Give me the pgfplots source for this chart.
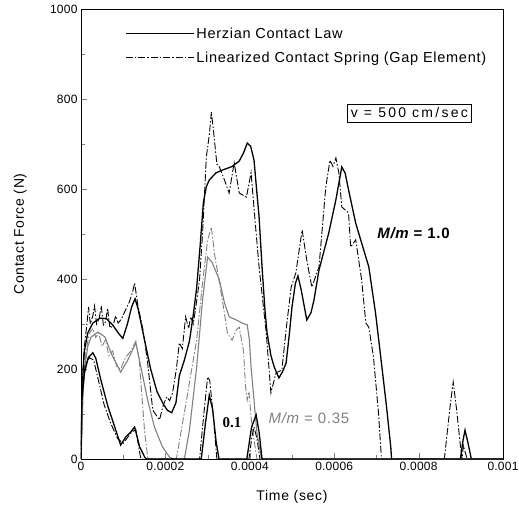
\documentclass[border=0pt]{standalone}
\usepackage{pgfplots}
\pgfplotsset{compat=1.18}
\usepackage{fontspec}
\setmainfont{Liberation Sans}[LetterSpace=5]
\newfontfamily\timesfont{Liberation Serif}
\tikzset{dashdot/.style={dash pattern=on 7pt off 2pt on 1.5pt off 2pt}}
\begin{document}
\begin{tikzpicture}
\useasboundingbox (-81pt,-60pt) rectangle (438pt,459pt);
\begin{axis}[
  at={(0pt,0pt)}, anchor=south west,
  scale only axis, width=422pt, height=450pt,
  xmin=0, xmax=0.001, ymin=0, ymax=1000,
  xtick={0,0.0002,0.0004,0.0006,0.0008,0.001},
  ytick={0,200,400,600,800,1000},
  minor x tick num=1, minor y tick num=1,
  scaled x ticks=false,
  xticklabel style={/pgf/number format/fixed,/pgf/number format/precision=4},
  /pgf/number format/1000 sep={},
  /pgf/number format/assume math mode=true,
  tick pos=left, tick align=inside,
  major tick length=6pt, minor tick length=4pt,
  ticklabel style={font=\fontsize{12}{14}\selectfont\addfontfeature{LetterSpace=2}},
  xlabel={Time (sec)}, ylabel={Contact Force (N)},
  label style={font=\fontsize{14}{16}\selectfont},
  xlabel style={at={(axis description cs:0.5,-0.084)}, anchor=center},
  ylabel style={at={(axis description cs:-0.144,0.5)}, anchor=center},
  axis line style={line width=0.8pt},
  legend style={draw=none, fill=none, at={(0.104,0.963)}, anchor=north west,
    font=\fontsize{14.5}{16}\selectfont, row sep=8pt, inner sep=0pt},
  legend cell align=left,
  legend image code/.code={\draw[#1] (0pt,0pt) -- (68pt,0pt);},
]
% M/m = 1.0 Herzian
\addplot[black, line width=1.3pt] coordinates {
(0,0) (0.000003,160) (0.000008,240) (0.000016,280) (0.000028,302) (0.000045,313)
(0.000060,312) (0.000075,298) (0.000090,278) (0.000099,268) (0.000110,300)
(0.000120,338) (0.000128,356) (0.000135,335) (0.000146,285) (0.000155,245)
(0.000165,200) (0.000180,150) (0.000195,122) (0.000205,108) (0.000215,103)
(0.000225,125) (0.000233,185) (0.000245,220) (0.000257,262) (0.000266,320)
(0.000274,380) (0.000282,470) (0.000290,570) (0.000297,605) (0.000304,620)
(0.000320,636) (0.000335,642) (0.000358,650) (0.000375,662) (0.000385,680)
(0.000394,702) (0.000402,695) (0.000410,664) (0.000416,600) (0.000422,538)
(0.000429,427) (0.000436,330) (0.000441,280) (0.000450,230) (0.000458,204)
(0.000469,180) (0.000478,195) (0.000486,213) (0.000494,280) (0.000500,338)
(0.000508,390) (0.000514,407) (0.000522,375) (0.000535,309) (0.000545,325)
(0.000552,353) (0.000564,420) (0.000587,502) (0.000604,576) (0.000618,649)
(0.000626,635) (0.000634,598) (0.000651,524) (0.000665,480) (0.000682,427)
(0.000698,324) (0.000712,213) (0.000724,116) (0.000734,27) (0.000736,0)
(0.000899,0) (0.000905,40) (0.000910,64) (0.000916,40) (0.000925,0) (0.001,0)
};
\addlegendentry{Herzian Contact Law}
% M/m = 1.0 Gap element
\addplot[black, line width=0.9pt, dashdot] coordinates {
(0,0) (0.000003,180) (0.000008,250) (0.000014,300) (0.000018,338) (0.000022,300)
(0.000028,318) (0.000032,340) (0.000037,300) (0.000043,312) (0.000048,340)
(0.000053,298) (0.000058,305) (0.000063,335) (0.000068,295) (0.000075,292)
(0.000082,318) (0.000088,302) (0.000095,310) (0.000105,330) (0.000115,350)
(0.000122,370) (0.000127,391) (0.000135,340) (0.000147,287) (0.000158,213)
(0.000170,109) (0.000180,95) (0.000186,87) (0.000195,120) (0.000203,138)
(0.000210,130) (0.000217,147) (0.000226,200) (0.000233,258) (0.000240,245)
(0.000248,316) (0.000255,290) (0.000260,316) (0.000266,300) (0.000274,350)
(0.000281,400) (0.000288,500) (0.000297,671) (0.000304,720) (0.000309,771)
(0.000315,720) (0.000322,655) (0.000328,649) (0.000340,620) (0.000351,591)
(0.000363,658) (0.000375,591) (0.000392,582) (0.000403,636) (0.000415,502)
(0.000422,427) (0.000439,280) (0.000450,147) (0.000462,191) (0.000476,198)
(0.000486,287) (0.000498,382) (0.000509,413) (0.000524,509) (0.000535,442)
(0.000547,382) (0.000564,427) (0.000580,604) (0.000590,664) (0.000597,650)
(0.000604,669) (0.000611,636) (0.000618,560) (0.000634,547) (0.000639,471)
(0.000651,487) (0.000665,398) (0.000675,302) (0.000682,293) (0.000693,227)
(0.000705,102) (0.000712,0) (0.000861,0) (0.000875,120) (0.000882,171)
(0.000890,110) (0.000899,30) (0.000903,0) (0.000906,30) (0.000912,10)
(0.000915,0) (0.001,0)
};
\addlegendentry{Linearized Contact Spring (Gap Element)}
% M/m = 0.35 Herzian (gray)
\addplot[black!50, line width=1.1pt, forget plot] coordinates {
(0,0) (0.000005,150) (0.000009,204) (0.000016,250) (0.000024,271) (0.000040,282)
(0.000057,271) (0.000071,236) (0.000094,193) (0.000111,220) (0.000130,258)
(0.000142,204) (0.000158,131) (0.000174,71) (0.000193,27) (0.000210,4)
(0.000220,0) (0.000245,0) (0.000257,64) (0.000274,204) (0.000288,353)
(0.000300,449) (0.000311,436) (0.000328,398) (0.000340,347) (0.000351,316)
(0.000368,309) (0.000382,302) (0.000394,298) (0.000399,264) (0.000403,204)
(0.000410,131) (0.000417,58) (0.000427,4) (0.000430,0) (0.001,0)
};
% M/m = 0.35 Gap (gray)
\addplot[black!50, line width=0.9pt, dashdot, forget plot] coordinates {
(0,0) (0.000005,170) (0.000012,240) (0.000020,280) (0.000028,290) (0.000035,270)
(0.000042,280) (0.000050,250) (0.000058,265) (0.000066,230) (0.000075,240)
(0.000085,205) (0.000094,200) (0.000105,225) (0.000118,240) (0.000130,262)
(0.000138,220) (0.000145,131) (0.000151,58) (0.000158,4) (0.000160,0)
(0.000226,0) (0.000250,131) (0.000274,264) (0.000288,391) (0.000300,487)
(0.000309,515) (0.000316,458) (0.000335,353) (0.000347,280) (0.000358,264)
(0.000368,287) (0.000375,293) (0.000385,240) (0.000390,160) (0.000394,131)
(0.000398,150) (0.000403,93) (0.000410,42) (0.000417,0) (0.001,0)
};
% M/m = 0.1 Herzian
\addplot[black, line width=1.3pt, forget plot] coordinates {
(0,0) (0.000002,131) (0.000008,190) (0.000017,225) (0.000028,236) (0.000035,224)
(0.000047,176) (0.000064,116) (0.000080,71) (0.000094,31) (0.000106,49)
(0.000118,60) (0.000127,71) (0.000139,27) (0.000151,4) (0.000155,0)
(0.000285,0) (0.000295,80) (0.000304,142) (0.000312,110) (0.000320,40)
(0.000327,0) (0.000393,0) (0.000404,70) (0.000415,98) (0.000422,60)
(0.000429,0) (0.001,0)
};
% M/m = 0.1 Gap
\addplot[black, line width=0.9pt, dashdot, forget plot] coordinates {
(0,0) (0.000003,150) (0.000010,210) (0.000020,225) (0.000030,220) (0.000040,180)
(0.000055,120) (0.000070,80) (0.000087,45) (0.000100,35) (0.000120,60)
(0.000130,65) (0.000138,20) (0.000142,0) (0.000281,0) (0.000290,90)
(0.000300,182) (0.000305,175) (0.000313,100) (0.000322,0) (0.000398,0)
(0.000405,50) (0.000410,71) (0.000417,45) (0.000424,0)
};
\node[draw, line width=0.6pt, inner sep=4pt, font=\fontsize{14}{16}\selectfont\addfontfeature{LetterSpace=16}]
  at (axis cs:0.000778,769) {v = 500 cm/sec};
\node[font=\fontsize{15}{17}\selectfont\bfseries] at (axis cs:0.000788,502) {\itshape M/m\upshape\ = 1.0};
\node[text=black!50, font=\fontsize{15}{17}\selectfont] at (axis cs:0.00054,91) {\itshape M/m\upshape\ = 0.35};
\node[font=\fontsize{15}{17}\timesfont\bfseries] at (axis cs:0.000358,80) {0.1};
\end{axis}
\end{tikzpicture}
\end{document}
